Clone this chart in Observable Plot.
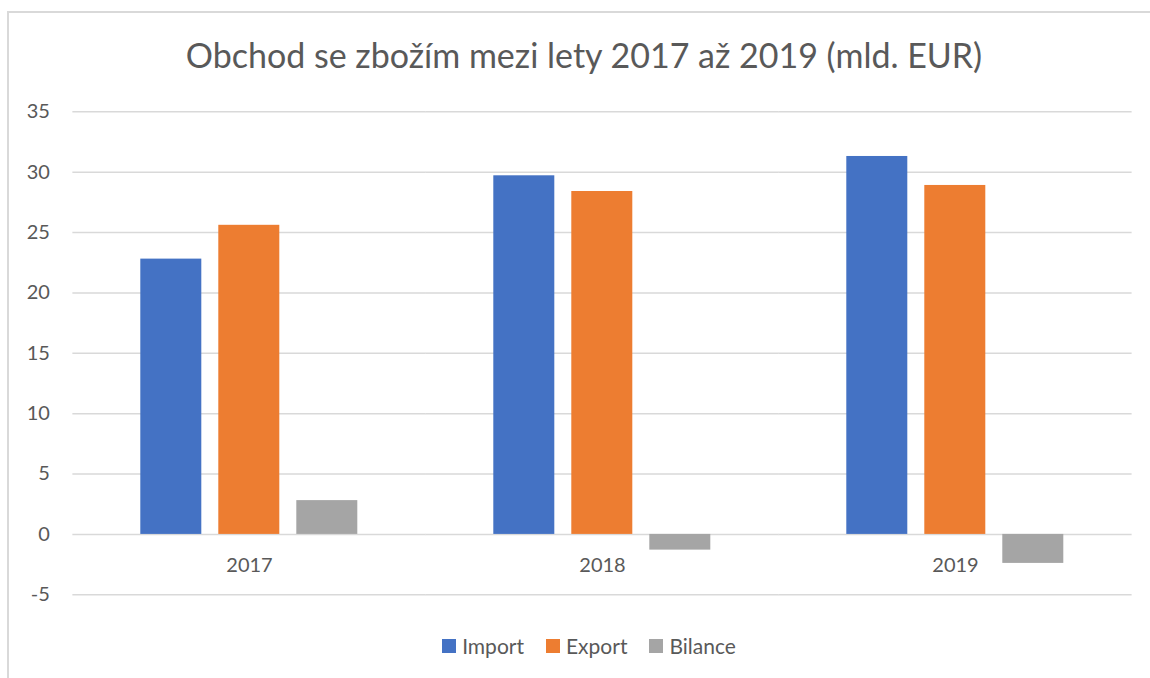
<!DOCTYPE html>
<html>
<head>
<meta charset="utf-8">
<script src="https://cdn.jsdelivr.net/npm/d3@7"></script>
<script src="https://cdn.jsdelivr.net/npm/@observablehq/plot@0.6"></script>
<style>
  html, body { margin: 0; padding: 0; background: #fff; }
  body { width: 1150px; height: 678px; overflow: hidden; position: relative; font-family: Lato, "Open Sans", sans-serif; }
  #frame { position: absolute; left: 7px; top: 11px; width: 1200px; height: 720px; border-left: 2px solid #d9d9d9; border-top: 2px solid #d9d9d9; box-sizing: border-box; }
  #title { position: absolute; left: 0; top: 36px; width: 1168px; text-align: center; font-size: 34px; line-height: 38px; color: #595959; white-space: nowrap; }
  #chart { position: absolute; left: 0; top: 90px; }
  #legend { position: absolute; left: 0; top: 632px; width: 1178px; display: flex; justify-content: center; align-items: center; font-size: 21px; line-height: 28px; color: #595959; }
  .item { display: flex; align-items: center; margin: 0 11px; }
  .sw { width: 14px; height: 14px; margin-right: 6px; }
</style>
</head>
<body>
<div id="frame"></div>
<div id="title">Obchod se zbožím mezi lety 2017 až 2019 (mld. EUR)</div>
<div id="chart"></div>
<div id="legend"></div>
<script>
const years = ["2017", "2018", "2019"];
const series = ["Import", "Export", "Bilance"];
const importValues = [22.8, 29.7, 31.3];
const exportValues = [25.6, 28.4, 28.9];
const bilanceValues = [2.8, -1.3, -2.4];
const yTicks = [-5, 0, 5, 10, 15, 20, 25, 30, 35];
const colors = ["#4472C4", "#ED7D31", "#A5A5A5"];

const valuesBySeries = [importValues, exportValues, bilanceValues];
const data = [];
years.forEach((year, i) => {
  series.forEach((s, j) => {
    data.push({year, series: s, value: valuesBySeries[j][i]});
  });
});

// layout
const W = 1150, mL = 72.7, mR = 18;
const fxInner = 0.383, fxOuter = fxInner / 2;
const step = (W - mL - mR) / (years.length - fxInner + 2 * fxOuter);
const halfGap = step * fxInner / 2; // space between facets, split in half

const plot = Plot.plot({
  width: W,
  height: 524.3,
  marginTop: 21.3,
  marginBottom: 20,
  marginLeft: mL,
  marginRight: mR,
  style: {fontFamily: "Lato, 'Open Sans', sans-serif", fontSize: "20px", color: "#595959", background: "transparent"},
  fx: {domain: years, paddingInner: fxInner, paddingOuter: fxOuter, axis: null, label: null},
  x: {domain: series, paddingInner: 0.217, paddingOuter: 0, axis: null, label: null},
  y: {domain: [-5, 35], axis: null, label: null},
  color: {domain: series, range: colors},
  marks: [
    Plot.ruleY(yTicks, {stroke: "#d9d9d9", strokeWidth: 1.5, insetLeft: -halfGap, insetRight: -halfGap}),
    Plot.axisY(yTicks, {tickSize: 0, tickPadding: 23 + halfGap, fill: "#595959", fontSize: 20, label: null, tickFormat: d => String(d)}),
    Plot.barY(data, {fx: "year", x: "series", y: "value", fill: "series"}),
    Plot.text(years, {fx: d => d, y: d => 0, text: d => d, frameAnchor: "middle", dy: 31, fill: "#595959", fontSize: 20})
  ]
});
document.getElementById("chart").appendChild(plot);

const legend = document.getElementById("legend");
series.forEach((s, i) => {
  const item = document.createElement("div");
  item.className = "item";
  const sw = document.createElement("div");
  sw.className = "sw";
  sw.style.background = colors[i];
  const label = document.createElement("span");
  label.textContent = s;
  item.appendChild(sw);
  item.appendChild(label);
  legend.appendChild(item);
});
</script>
</body>
</html>
